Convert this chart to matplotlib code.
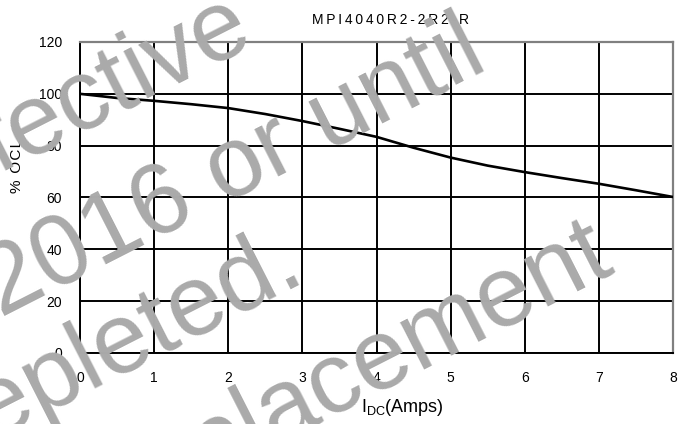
import numpy as np
import matplotlib
matplotlib.use("Agg")
import matplotlib.pyplot as plt

plt.rcParams['font.family'] = ['Liberation Sans', 'DejaVu Sans']
plt.rcParams['mathtext.fontset'] = 'custom'
plt.rcParams['mathtext.rm'] = 'Liberation Sans'

# inductance roll-off vs DC current
idc = [0, 0.5, 1, 1.5, 2, 2.5, 3, 3.5, 4, 4.5, 5, 5.5, 6, 6.5, 7, 7.5, 8]
ocl = [100, 98.4, 97.3, 96.0, 94.5, 92.2, 89.5, 86.5, 83.4, 79.2, 75.4, 72.3, 69.8, 67.5, 65.3, 62.8, 60.2]

xticks = [0, 1, 2, 3, 4, 5, 6, 7, 8]
yticks = [0, 20, 40, 60, 80, 100, 120]

title = "MPI4040R2-2R2-R"
watermark = ["effective", "2016 or until", "depleted.", "replacement"]

W, H = 689, 424
fig = plt.figure(figsize=(W / 100, H / 100), dpi=100)
ax = fig.add_axes([80 / W, 1 - 353 / H, 593 / W, 311 / H])

ax.plot(idc, ocl, color='black', lw=1.9, zorder=3)
ax.set_xlim(0, 8)
ax.set_ylim(0, 120)
ax.set_xticks(xticks)
ax.set_yticks(yticks)
ax.grid(True, color='black', lw=1.4)
ax.tick_params(length=0, labelsize=10, pad=13)
for s in ['left', 'bottom']:
    ax.spines[s].set_color('black')
    ax.spines[s].set_linewidth(1.4)
for s in ['top', 'right']:
    ax.spines[s].set_color('#808080')
    ax.spines[s].set_linewidth(1.6)

def spaced(t, sep='\u200a'):
    return sep.join(t)

fig.text(391 / W, 1 - 20 / H, spaced(title, '\u2009'), ha='center', va='center', fontsize=10)
fig.text(402 / W, 1 - 407 / H, r'I$_{\rm DC}$(Amps)', ha='center', va='center', fontsize=13)
fig.text(17 / W, 1 - 166 / H, spaced("% OCL"), ha='center', va='center', rotation=90, fontsize=11)

# watermark over the chart, anchored at the end of each line
ends = [(257, 42), (491, 68), (308, 278), (616, 268)]
for t, (x, y) in zip(watermark, ends):
    fig.text(x / W, 1 - y / H, t, ha='right', va='baseline', rotation=27,
             rotation_mode='anchor', fontsize=72, color='#aaaaaa', zorder=10)

fig.savefig('out.png', dpi=100)
